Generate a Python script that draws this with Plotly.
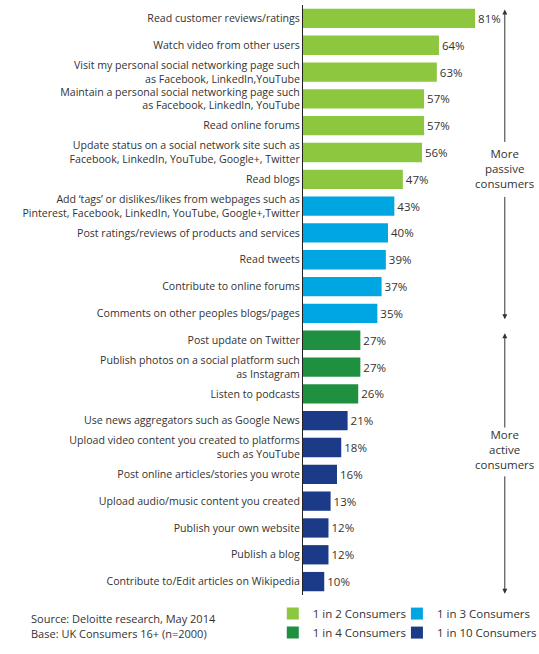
import plotly.graph_objects as go

labels = [
    "Read customer reviews/ratings",
    "Watch video from other users",
    "Visit my personal social networking page such<br>as Facebook, LinkedIn,YouTube",
    "Maintain a personal social networking page such<br>as Facebook, LinkedIn, YouTube",
    "Read online forums",
    "Update status on a social network site such as<br>Facebook, LinkedIn, YouTube, Google+, Twitter",
    "Read blogs",
    "Add ‘tags’ or dislikes/likes from webpages such as<br>Pinterest, Facebook, LinkedIn, YouTube, Google+,Twitter",
    "Post ratings/reviews of products and services",
    "Read tweets",
    "Contribute to online forums",
    "Comments on other peoples blogs/pages",
    "Post update on Twitter",
    "Publish photos on a social platform such<br>as Instagram",
    "Listen to podcasts",
    "Use news aggregators such as Google News",
    "Upload video content you created to platforms<br>such as YouTube",
    "Post online articles/stories you wrote",
    "Upload audio/music content you created",
    "Publish your own website",
    "Publish a blog",
    "Contribute to/Edit articles on Wikipedia",
]
values = [81, 64, 63, 57, 57, 56, 47, 43, 40, 39, 37, 35, 27, 27, 26, 21, 18, 16, 13, 12, 12, 10]
groups = ["1 in 2"] * 7 + ["1 in 3"] * 5 + ["1 in 4"] * 3 + ["1 in 10"] * 7

group_names = ["1 in 2", "1 in 3", "1 in 4", "1 in 10"]
group_colors = {"1 in 2": "#8DC63F", "1 in 3": "#00A6E2", "1 in 4": "#1F9040", "1 in 10": "#1B3A87"}
# legend columns: left column 1 in 2 / 1 in 4, right column 1 in 3 / 1 in 10
group_legend = {"1 in 2": "legend", "1 in 3": "legend2", "1 in 4": "legend", "1 in 10": "legend2"}

FONT = "Open Sans"
TXT = "#333333"

fig = go.Figure()
for g in group_names:
    ys = [labels[i] for i in range(len(labels)) if groups[i] == g]
    xs = [values[i] for i in range(len(values)) if groups[i] == g]
    fig.add_trace(go.Bar(
        x=xs, y=ys, orientation="h", name=g + " Consumers",
        marker=dict(color=group_colors[g], line=dict(width=0)),
        width=0.72,
        text=[f"{v}%" for v in xs], textposition="outside",
        textfont=dict(family=FONT, size=11.5, color=TXT),
        cliponaxis=False, legend=group_legend[g],
    ))

# arrows on the right
ax_x = 95
arrows = [(-0.33, 4.66), (11.22, 6.6), (11.74, 15.31), (21.45, 17.02)]
for head, tail in arrows:
    fig.add_annotation(x=ax_x, y=head, ax=ax_x, ay=tail, xref="x", yref="y",
                       axref="x", ayref="y", text="", showarrow=True,
                       arrowhead=2, arrowsize=1, arrowwidth=1, arrowcolor="#333333",
                       standoff=0, startstandoff=0)
fig.add_annotation(x=ax_x, y=5.59, xref="x", yref="y", text="More<br>passive<br>consumers",
                   showarrow=False, font=dict(family=FONT, size=11.5, color=TXT))
fig.add_annotation(x=ax_x, y=16.09, xref="x", yref="y", text="More<br>active<br>consumers",
                   showarrow=False, font=dict(family=FONT, size=11.5, color=TXT))

fig.add_annotation(x=-1.159, y=-0.04, xref="paper", yref="paper", xanchor="left", yanchor="middle",
                   text="Source: Deloitte research, May 2014", showarrow=False,
                   font=dict(family=FONT, size=11, color=TXT))
fig.add_annotation(x=-1.159, y=-0.066, xref="paper", yref="paper", xanchor="left", yanchor="middle",
                   text="Base: UK Consumers 16+ (n=2000)", showarrow=False,
                   font=dict(family=FONT, size=11, color=TXT))

legend_style = dict(orientation="v", xanchor="left", yanchor="middle", y=-0.0476,
                    font=dict(family=FONT, size=11.5, color=TXT), bgcolor="rgba(0,0,0,0)",
                    itemwidth=30, tracegroupgap=0, traceorder="normal")

fig.update_layout(
    width=539, height=654,
    margin=dict(l=303, r=0, t=5, b=59, autoexpand=False),
    plot_bgcolor="white", paper_bgcolor="white",
    barmode="overlay",
    font=dict(family=FONT, size=10.6, color=TXT),
    legend=dict(x=-0.128, **legend_style),
    legend2=dict(x=0.398, **legend_style),
    xaxis=dict(range=[0, 111.1], visible=False),
    yaxis=dict(categoryorder="array", categoryarray=labels, range=[21.5, -0.5],
               showline=True, linecolor="#222222", linewidth=1, ticks="",
               showgrid=False, tickfont=dict(family=FONT, size=10.6, color=TXT)),
)

fig.write_html("out.html", config={"displayModeBar": False},
               post_script="document.body.style.margin='0';")
